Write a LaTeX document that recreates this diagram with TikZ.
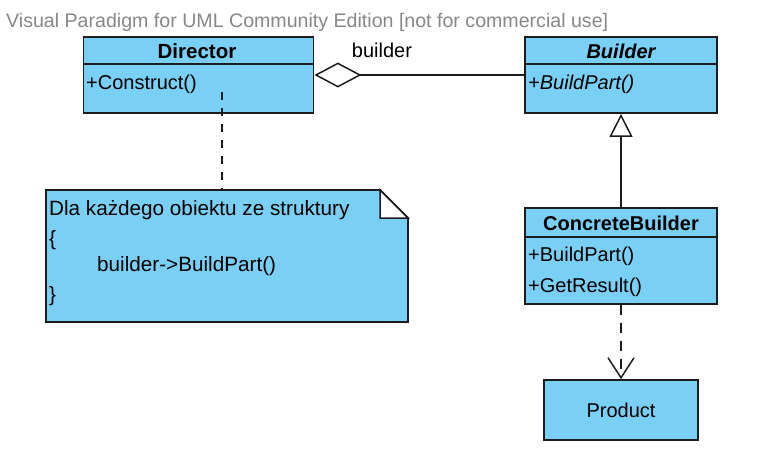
\documentclass[tikz,border=0pt]{standalone}
\usepackage{fontspec}
\setmainfont{Liberation Sans}
\usetikzlibrary{arrows.meta}
\definecolor{vpblue}{RGB}{122,207,245}
\definecolor{vpline}{RGB}{28,28,28}
\definecolor{wmgray}{RGB}{135,135,135}
\begin{document}
\begin{tikzpicture}[x=1pt,y=-1pt,
  every node/.style={font=\fontsize{20}{24}\selectfont, inner sep=0pt, text=black},
  classbox/.style={draw=vpline, fill=vpblue, line width=1.8pt},
  divider/.style={draw=vpline, line width=1.6pt},
  conn/.style={draw=vpline, line width=1.5pt},
  member/.style={anchor=west},
  notetext/.style={anchor=west, font=\fontsize{20.7}{24}\selectfont}]
\useasboundingbox (0,0) rectangle (766,451);
% watermark
\node[anchor=west, text=wmgray, font=\fontsize{19.6}{22}\selectfont] (wm) at (6,22) {Visual Paradigm for UML Community Edition [not for commercial use]};
% Director
\node[classbox, minimum width=230pt, minimum height=76pt] (director) at (198.5,75) {};
\draw[divider] ([yshift=-28pt]director.north west) -- ([yshift=-28pt]director.north east);
\node[font=\fontsize{20.5}{24}\selectfont\bfseries] (dirname) at (197,51) {Director};
\node[member] (dirop) at (86,84) {+Construct()};
% Builder
\node[classbox, minimum width=192pt, minimum height=76pt] (builder) at (621,75) {};
\draw[divider] ([yshift=-28pt]builder.north west) -- ([yshift=-28pt]builder.north east);
\node[font=\fontsize{20}{24}\selectfont\bfseries\itshape] (bname) at (621,51) {Builder};
\node[member, font=\fontsize{20}{24}\selectfont\itshape] (bop) at (528,84) {+BuildPart()};
% ConcreteBuilder
\node[classbox, minimum width=192pt, minimum height=96pt] (concrete) at (621,256) {};
\draw[divider] ([yshift=-30pt]concrete.north west) -- ([yshift=-30pt]concrete.north east);
\node[font=\fontsize{20}{24}\selectfont\bfseries] (cname) at (621,223) {ConcreteBuilder};
\node[member] (cop1) at (528,256) {+BuildPart()};
\node[member] (cop2) at (528,287) {+GetResult()};
% Product
\node[classbox, minimum width=154pt, minimum height=60pt] (product) at (621,410) {Product};
% Note
\draw[classbox] (46,190) -- (380,190) -- (408,218) -- (408,322) -- (46,322) -- cycle;
\draw[draw=vpline, fill=white, line width=1.5pt, line join=miter] (380,190) -- (380,218) -- (408,218) -- cycle;
\node[minimum width=362pt, minimum height=132pt] (note) at (227,256) {};
\node[notetext] (n1) at (49,210) {Dla każdego obiektu ze struktury};
\node[notetext] (n2) at (49,240) {\{};
\node[notetext] (n3) at (97,266) {builder->BuildPart()};
\node[notetext] (n4) at (49,296) {\}};
% connectors
\draw[conn, {Diamond[open, fill=white, length=47pt, width=25pt, line width=1.5pt]}-] (director.east) -- (builder.west);
\node (blabel) at (382,50) {builder};
\draw[conn, -{Triangle[open, fill=white, length=23pt, width=23pt, line width=1.5pt]}] (concrete.north) -- (builder.south);
\draw[conn, dash pattern=on 10pt off 8pt, -{Straight Barb[length=20pt, width=26pt, line width=1.5pt]}] (concrete.south) -- (product.north);
\coordinate (dirc) at (222,92);
\draw[conn, dash pattern=on 8pt off 8pt] (dirc) -- (dirc |- note.north);
\end{tikzpicture}
\end{document}
